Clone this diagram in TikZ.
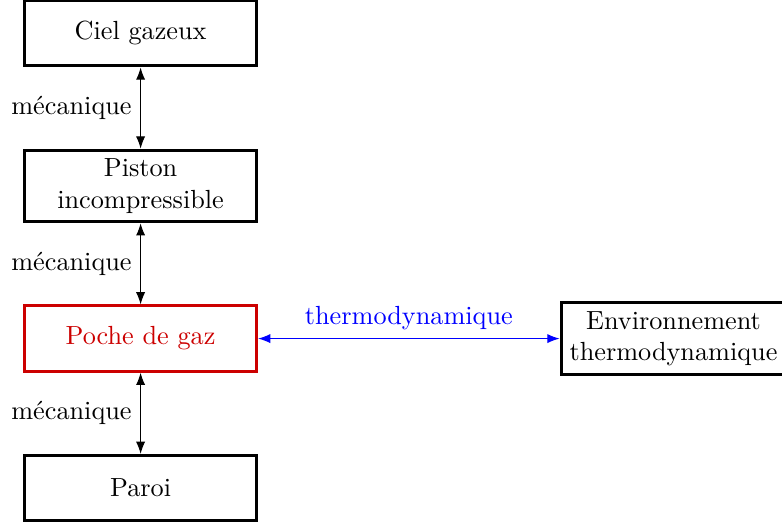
\documentclass[tikz,border=0pt]{standalone}
\usepackage{tikz}
\usetikzlibrary{arrows.meta, positioning}
\begin{document}
\begin{tikzpicture}[
  node distance=1.12cm and 4.16cm,
  font=\fontsize{10.3}{12.4}\selectfont,
  bloc/.style={rectangle, draw=black, line width=1.2pt, minimum width=3.2cm,
               minimum height=0.9cm, align=center},
  poche/.style={bloc, draw=red!80!black, text=red!80!black},
  envbox/.style={bloc, minimum width=0cm},
  lien/.style={{Latex}-{Latex}},
  thermo/.style={lien, blue}
]
\useasboundingbox (0,0) rectangle (10.79,-7.23);
\node[bloc] (ciel) at (1.94,-0.46) {Ciel gazeux};
\node[bloc, below=of ciel] (piston) {Piston\\incompressible};
\node[poche, below=of piston] (gaz) {Poche de gaz};
\node[bloc, below=of gaz] (paroi) {Paroi};
\node[envbox, right=of gaz] (env) {Environnement\\thermodynamique};
\draw[lien] (ciel) -- node[left, midway] {mécanique} (piston);
\draw[lien] (piston) -- node[left, midway] {mécanique} (gaz);
\draw[lien] (gaz) -- node[left, midway] {mécanique} (paroi);
\draw[thermo] (gaz) -- node[above, midway] {thermodynamique} (env);
\end{tikzpicture}
\end{document}
